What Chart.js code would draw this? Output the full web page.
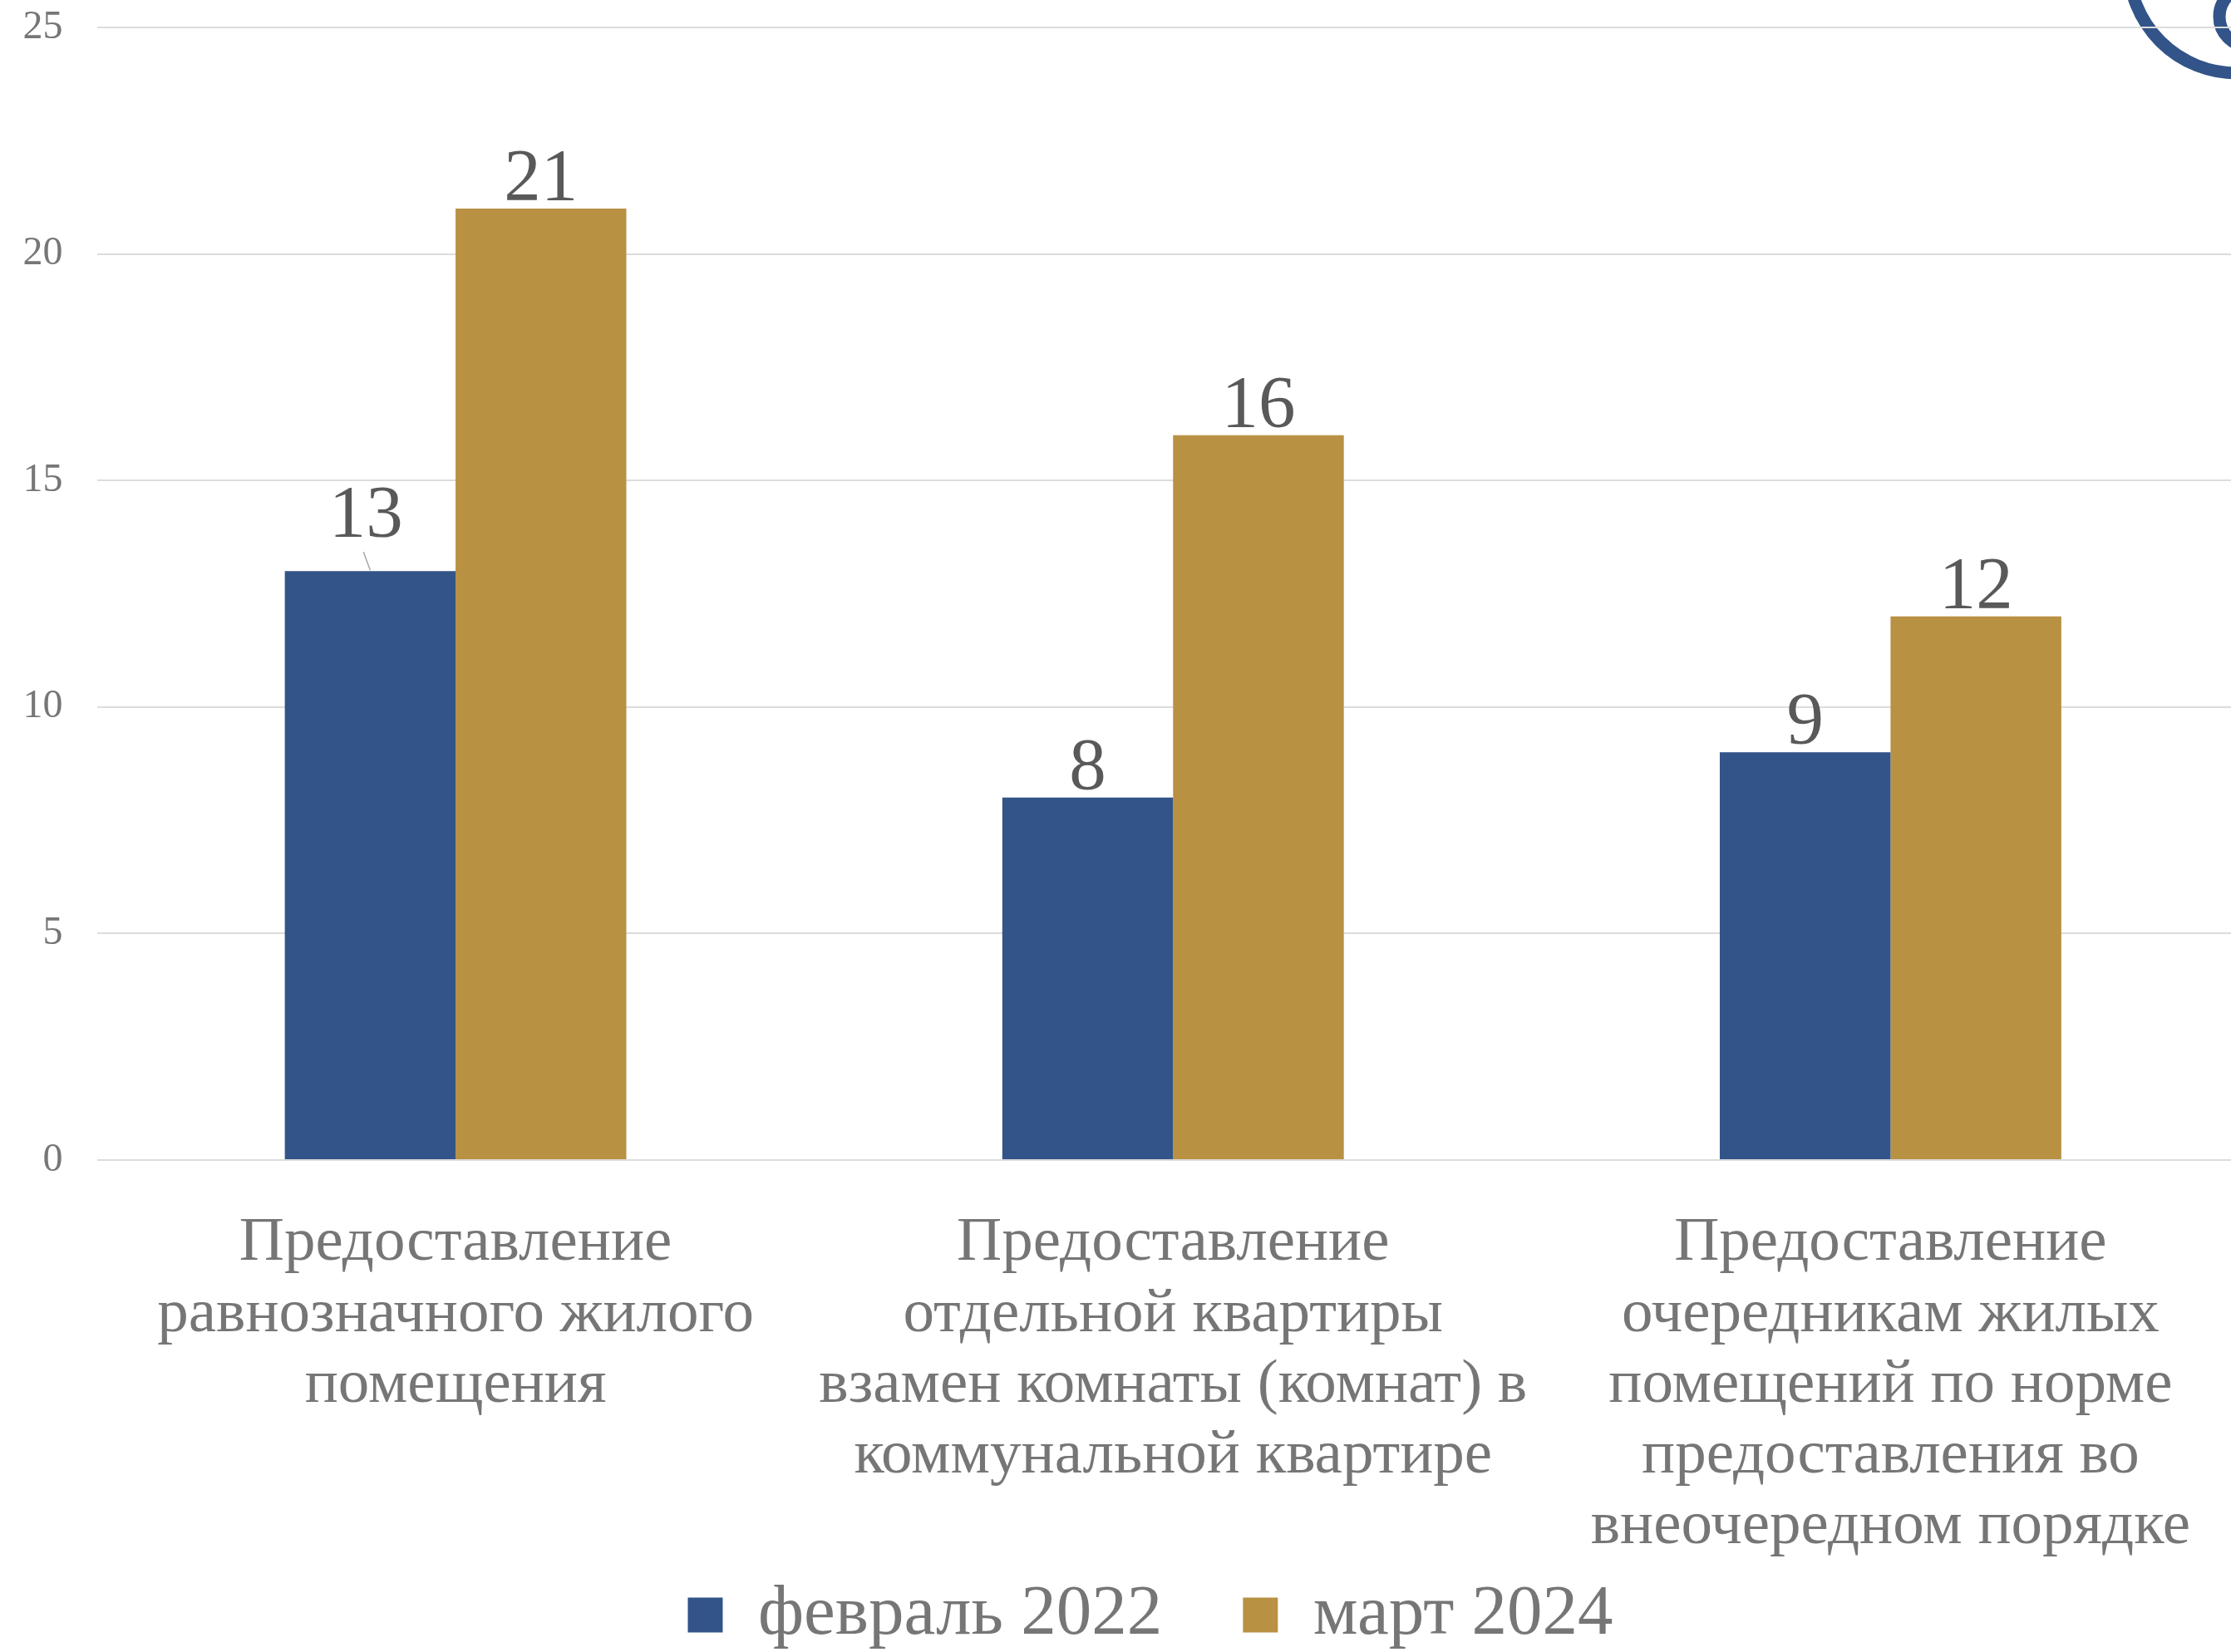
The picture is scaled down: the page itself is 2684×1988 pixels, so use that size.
<!DOCTYPE html>
<html>
<head>
<meta charset="utf-8">
<script src="https://cdn.jsdelivr.net/npm/chart.js@4/dist/chart.umd.min.js"></script>
<style>
  html, body { margin: 0; padding: 0; background: #ffffff; overflow: hidden; }
  #wrap { position: absolute; left: 0; top: 0; width: 2706px; height: 1996px; }
</style>
</head>
<body>
<div id="wrap"><canvas id="c" width="2706" height="1996"></canvas></div>
<script>
// ---- data ----
const categories = [
  ["Предоставление", "равнозначного жилого", "помещения"],
  ["Предоставление", "отдельной квартиры", "взамен комнаты (комнат) в", "коммунальной квартире"],
  ["Предоставление", "очередникам жилых", "помещений по норме", "предоставления во", "внеочередном порядке"]
];
const seriesNames = ["февраль 2022", "март 2024"];
const feb2022 = [13, 8, 9];
const mar2024 = [21, 16, 12];
const yMin = 0;
const yMax = 25;
const yStep = 5;

// ---- styles ----
const FONT = '"Liberation Serif", "Times New Roman", serif';
const BLUE = '#335489';
const GOLD = '#b99143';
const GRAY = '#767676';

const valueLabels = {
  id: 'valueLabels',
  afterDatasetsDraw(chart, args, opts) {
    const ctx = chart.ctx;
    ctx.save();
    ctx.font = opts.size + 'px ' + FONT;
    ctx.fillStyle = opts.color;
    ctx.textAlign = 'center';
    ctx.textBaseline = 'alphabetic';
    chart.data.datasets.forEach((ds, di) => {
      const meta = chart.getDatasetMeta(di);
      meta.data.forEach((bar, i) => {
        const s = (opts.shift && opts.shift[di + '-' + i]) || { dx: 0, dy: 0 };
        const x = bar.x + s.dx;
        const y = bar.y - opts.gap - s.dy;
        ctx.fillText(String(ds.data[i]), x, y);
        if (s.leader) {
          ctx.strokeStyle = '#a6a6a6';
          ctx.lineWidth = 1.5;
          ctx.beginPath();
          ctx.moveTo(bar.x - 8, y + 19);
          ctx.lineTo(bar.x, bar.y - 1);
          ctx.stroke();
        }
      });
    });
    ctx.restore();
  }
};

// decorative logo fragment in the top-right corner (not data)
const logoFragment = {
  id: 'logoFragment',
  beforeDraw(chart) {
    const ctx = chart.ctx;
    ctx.save();
    ctx.strokeStyle = BLUE;
    ctx.lineWidth = 15;
    ctx.beginPath();
    ctx.arc(2691, -42, 130, 0, Math.PI * 2);
    ctx.stroke();
    ctx.beginPath();
    ctx.arc(2706, 20, 36, 0, Math.PI * 2);
    ctx.stroke();
    ctx.restore();
  }
};

// let tick labels spill outside their axis box (as in the reference)
function noLabelClip(scale) { scale._computeLabelArea = () => undefined; }

Chart.defaults.font.family = FONT;

new Chart(document.getElementById('c'), {
  type: 'bar',
  data: {
    labels: categories,
    datasets: [
      { label: seriesNames[0], data: feb2022, backgroundColor: BLUE, borderWidth: 0 },
      { label: seriesNames[1], data: mar2024, backgroundColor: GOLD, borderWidth: 0 }
    ]
  },
  options: {
    responsive: false,
    animation: false,
    devicePixelRatio: 1,
    layout: { padding: { left: 62, right: 0, top: 33, bottom: 0 } },
    datasets: { bar: { categoryPercentage: 0.476, barPercentage: 1.0 } },
    scales: {
      x: {
        grid: { display: false },
        border: { display: false },
        ticks: {
          autoSkip: false, maxRotation: 0, minRotation: 0,
          color: GRAY,
          padding: 50,
          font: { size: 75, lineHeight: 1.137, family: FONT }
        },
        afterFit(scale) { scale.height = 408; noLabelClip(scale); }
      },
      y: {
        min: yMin, max: yMax,
        grid: { color: '#dcdcdc', lineWidth: 2, drawTicks: true, tickLength: 41, tickColor: 'rgba(0,0,0,0)' },
        border: { display: false },
        ticks: {
          stepSize: yStep,
          color: GRAY,
          padding: 0,
          font: { size: 48, family: FONT }
        },
        afterFit(scale) { scale.width = 54.5; noLabelClip(scale); }
      }
    },
    plugins: {
      legend: {
        position: 'bottom',
        labels: {
          boxWidth: 42, boxHeight: 42,
          padding: 97,
          color: GRAY,
          font: { size: 85, family: FONT }
        }
      },
      tooltip: { enabled: false },
      valueLabels: {
        size: 89,
        color: '#595959',
        gap: 11,
        shift: { '0-0': { dx: -5, dy: 31, leader: true } }
      }
    }
  },
  plugins: [valueLabels, logoFragment]
});
</script>
</body>
</html>
